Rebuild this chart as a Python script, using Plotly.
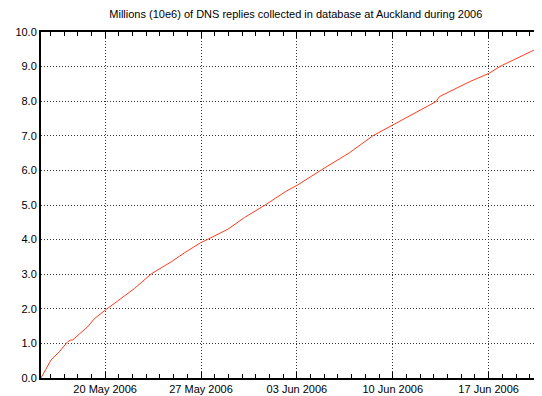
import plotly.graph_objects as go

# Timestamps (sample points) and cumulative replies in millions
times = [
    "2006-05-15 07:35", "2006-05-16 01:06", "2006-05-16 15:50", "2006-05-17 06:20",
    "2006-05-17 12:10", "2006-05-17 15:10", "2006-05-18 17:20", "2006-05-19 05:35",
    "2006-05-20 00:50", "2006-05-22 03:40", "2006-05-23 08:50", "2006-05-24 19:55",
    "2006-05-25 19:10", "2006-05-26 23:15", "2006-05-27 12:00", "2006-05-28 23:00",
    "2006-05-30 04:20", "2006-05-31 18:15", "2006-06-02 05:15", "2006-06-03 00:30",
    "2006-06-04 18:30", "2006-06-06 20:10", "2006-06-08 13:00", "2006-06-09 18:15",
    "2006-06-10 00:00", "2006-06-12 04:35", "2006-06-13 03:50", "2006-06-13 09:35",
    "2006-06-15 14:10", "2006-06-17 00:00", "2006-06-17 21:35", "2006-06-20 07:55",
]
replies_millions = [
    0.00, 0.52, 0.76, 1.05,
    1.10, 1.10, 1.48, 1.72,
    1.97, 2.59, 3.01, 3.36,
    3.62, 3.91, 4.01, 4.30,
    4.64, 5.02, 5.40, 5.57,
    6.01, 6.51, 7.00, 7.26,
    7.31, 7.79, 7.99, 8.13,
    8.56, 8.80, 9.02, 9.48,
]

title_text = "Millions (10e6) of DNS replies collected in database at Auckland during 2006"
x_range = ["2006-05-15 07:35", "2006-06-20 21:30"]
y_range = [0, 10]

fig = go.Figure()
fig.add_trace(go.Scatter(
    x=times, y=replies_millions, mode="lines",
    line=dict(color="#ff3c1e", width=1),
    hoverinfo="skip", showlegend=False,
))

font_family = "Liberation Sans, Arial, Helvetica, sans-serif"

# page body has an 8px margin, so the figure is sized to fill the rest of the window
fig.update_layout(
    width=534, height=388,
    margin=dict(l=33, r=0, t=24, b=18),
    paper_bgcolor="white", plot_bgcolor="white",
    font=dict(family=font_family, size=11, color="black"),
    title=dict(text=title_text, x=0.539, xanchor="center", y=0.984, yanchor="middle",
               font=dict(size=11, color="black", family=font_family)),
)

grid_dash = "1px,2px"
fig.update_xaxes(
    type="date", range=x_range,
    tick0="2006-05-20", dtick=7 * 86400000, tickformat="%d %b %Y",
    ticks="inside", ticklen=6, tickwidth=1, tickcolor="black",
    showline=True, linecolor="black", linewidth=2, mirror="ticks",
    showgrid=True, gridcolor="#333333", griddash=grid_dash, gridwidth=1,
    minor=dict(dtick=86400000, tick0="2006-05-20", ticks="inside", ticklen=4,
               tickcolor="black", showgrid=False),
    zeroline=False,
    tickfont=dict(size=11, color="black"),
)
fig.update_yaxes(
    range=y_range, dtick=1, tickformat=".1f",
    ticks="", showline=True, linecolor="black", linewidth=2, mirror=False,
    showgrid=True, gridcolor="#333333", griddash=grid_dash, gridwidth=1,
    zeroline=False,
    tickfont=dict(size=11, color="black"),
)

fig.write_html("out.html")
